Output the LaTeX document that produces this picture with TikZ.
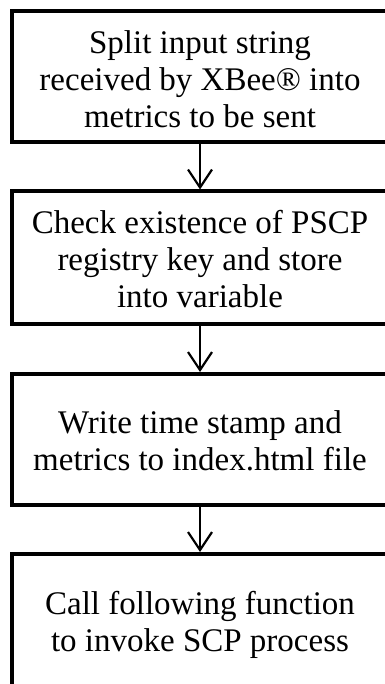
\documentclass[tikz,border=0pt]{standalone}
\usepackage{fontspec}
\setmainfont{Liberation Serif}
\usetikzlibrary{arrows.meta}
\begin{document}
\begin{tikzpicture}[x=1pt,y=-1pt,
  stepbox/.style={draw=black,line width=4pt,fill=white,rectangle,inner sep=0pt,minimum width=376pt},
  steptext/.style={align=center,inner sep=0pt,font=\fontsize{33}{37}\selectfont,anchor=base},
  flow/.style={line width=2.2pt,-{Straight Barb[length=18pt,width=24pt]}}]
\useasboundingbox (0,0) rectangle (384,684);
\node[stepbox,minimum height=131pt] (b1) at (200,76.5) {};
\node[stepbox,minimum height=132.5pt] (b2) at (200,257.75) {};
\node[stepbox,minimum height=131pt] (b3) at (200,439.5) {};
\node[stepbox,minimum height=131.5pt] (b4) at (200,619.75) {};
\node[steptext] (t1) at (200,128) {Split input string\\received by XBee® into\\metrics to be sent};
\node[steptext] (t2) at (200,307.5) {Check existence of PSCP\\registry key and store\\into variable};
\node[steptext] (t3) at (200,470) {Write time stamp and\\metrics to index.html file};
\node[steptext] (t4) at (200,651.5) {Call following function\\to invoke SCP process};
\draw[flow] (b1.south) -- (b2.north);
\draw[flow] (b2.south) -- (b3.north);
\draw[flow] (b3.south) -- (b4.north);
\end{tikzpicture}
\end{document}
